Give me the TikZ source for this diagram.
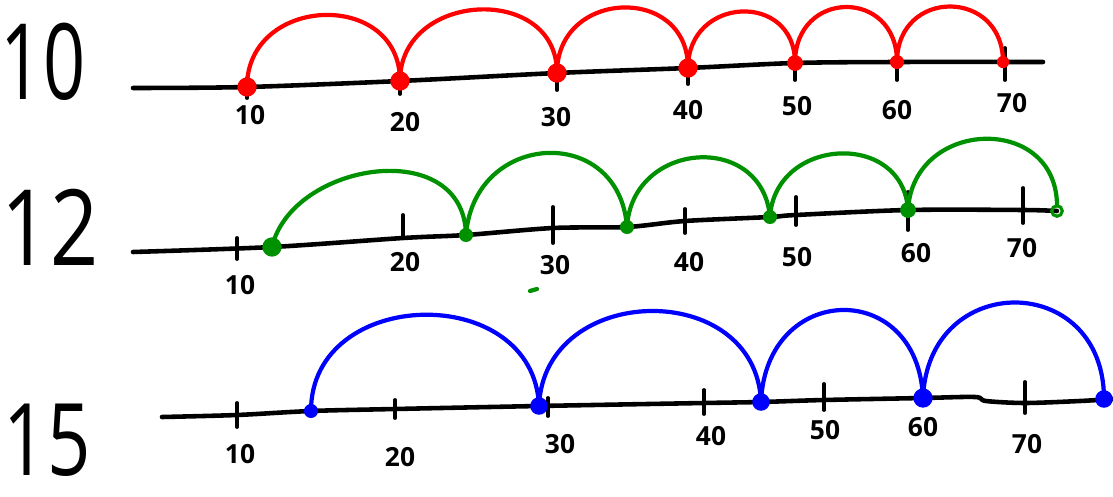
\documentclass[tikz,border=0pt]{standalone}
\usepackage{fontspec}
\setmainfont{Open Sans}

\begin{document}
\begin{tikzpicture}[x=0.02cm,y=-0.02cm,
    numline/.style={line width=2.6pt,line cap=round,line join=round},
    tick/.style={line width=2.2pt,line cap=round},
    ticklabel/.style={font=\bfseries\fontsize{15}{17}\selectfont},
    rowlabel/.style={font=\fontsize{60}{64}\selectfont,inner sep=0pt},
    jump/.style={line width=2.4pt,line cap=round,line join=round},
    dot/.style={circle,fill,inner sep=0pt,minimum size=11pt}]
  \useasboundingbox (0,0) rectangle (1113,497);
  \definecolor{jumpgreen}{RGB}{0,145,0}
  % Row labels
  \node[rowlabel] (lab10) at (43,62) {\scalebox{0.7}[1]{10}};
  \node[rowlabel] (lab12) at (50,227) {\scalebox{0.8}[1]{12}};
  \node[rowlabel] (lab15) at (47,440) {\scalebox{0.72}[0.95]{15}};

  % ---- Row 1: jumps of 10 ----
  \draw[numline] plot[smooth,tension=0.5] coordinates {
    (133,88) (247,87) (400,81) (557,73) (688,68) (795,63) (897,62) (1043,62)};
  \draw[tick] (247,78) -- (247,98);
  \draw[tick] (400,72) -- (400,94);
  \draw[tick] (557,62) -- (557,90);
  \draw[tick] (688,58) -- (688,84);
  \draw[tick] (795,55) -- (795,80);
  \draw[tick] (897,50) -- (897,80);
  \draw[tick] (1005,48) -- (1005,80);
  \node[ticklabel] (t1a) at (250,115) {10};
  \node[ticklabel] (t1b) at (405,122) {20};
  \node[ticklabel] (t1c) at (556,117) {30};
  \node[ticklabel] (t1d) at (688,110) {40};
  \node[ticklabel] (t1e) at (797,106) {50};
  \node[ticklabel] (t1f) at (897,110) {60};
  \node[ticklabel] (t1g) at (1012,103) {70};
  % red dots and jumps
  \node[dot,red] (r1) at (247,87) {};
  \node[dot,red] (r2) at (400,81) {};
  \node[dot,red] (r3) at (557,73) {};
  \node[dot,red] (r4) at (688,68) {};
  \node[dot,red,minimum size=9pt] (r5) at (795,63) {};
  \node[dot,red,minimum size=8pt] (r6) at (897,62) {};
  \node[dot,red,minimum size=7pt] (r7) at (1003,62) {};
  \draw[jump,red] (r1.center) .. controls +(0,-92) and +(0,-92) .. (r2.center);
  \draw[jump,red] (r2.center) .. controls +(0,-90) and +(0,-90) .. (r3.center);
  \draw[jump,red] (r3.center) .. controls +(0,-84) and +(0,-84) .. (r4.center);
  \draw[jump,red] (r4.center) .. controls +(0,-72) and +(0,-72) .. (r5.center);
  \draw[jump,red] (r5.center) .. controls +(0,-74) and +(0,-74) .. (r6.center);
  \draw[jump,red] (r6.center) .. controls +(0,-74) and +(0,-74) .. (r7.center);

  % ---- Row 2: jumps of 12 ----
  \draw[numline] plot[smooth,tension=0.5] coordinates {
    (133,252) (272,247) (403,238) (466,235) (553,228) (627,227) (685,221) (770,217) (796,215) (908,210) (1023,210) (1057,211)};
  \draw[tick] (237,238) -- (237,259);
  \draw[tick] (403,215) -- (403,238);
  \draw[tick] (553,207) -- (553,243);
  \draw[tick] (685,209) -- (685,233);
  \draw[tick] (796,197) -- (796,225);
  \draw[tick] (908,192) -- (908,230);
  \draw[tick] (1023,188) -- (1023,223);
  \node[ticklabel] (t2a) at (240,285) {10};
  \node[ticklabel] (t2b) at (405,262) {20};
  \node[ticklabel] (t2c) at (555,265) {30};
  \node[ticklabel] (t2d) at (689,262) {40};
  \node[ticklabel] (t2e) at (797,257) {50};
  \node[ticklabel] (t2f) at (916,253) {60};
  \node[ticklabel] (t2g) at (1022,248) {70};
  % green dots and jumps
  \node[dot,jumpgreen] (g1) at (272,247) {};
  \node[dot,jumpgreen,minimum size=8pt] (g2) at (466,235) {};
  \node[dot,jumpgreen,minimum size=8pt] (g3) at (627,227) {};
  \node[dot,jumpgreen,minimum size=8pt] (g4) at (770,217) {};
  \node[dot,jumpgreen,minimum size=9pt] (g5) at (908,210) {};
  \node[circle,draw=jumpgreen,line width=1.8pt,inner sep=0pt,minimum size=6pt] (g6) at (1057,211) {};
  \draw[jump,jumpgreen] (g1.center) .. controls +(20,-85) and +(-2,-100) .. (g2.center);
  \draw[jump,jumpgreen] (g2.center) .. controls +(8,-104) and +(-8,-104) .. (g3.center);
  \draw[jump,jumpgreen] (g3.center) .. controls +(5,-86) and +(-8,-86) .. (g4.center);
  \draw[jump,jumpgreen] (g4.center) .. controls +(5,-80) and +(-5,-80) .. (g5.center);
  \draw[jump,jumpgreen] (g5.center) .. controls +(5,-91) and +(-2,-91) .. (g6.north);
  \draw[jump,jumpgreen] (530,291) -- (537,289);

  % ---- Row 3: jumps of 15 ----
  \draw[numline] plot[smooth,tension=0.5] coordinates {
    (162,417) (237,415) (311,411) (395,409) (539,406) (704,403) (761,402) (824,400) (923,398) (975,397) (986,401) (1025,403) (1080,401) (1113,399)};
  \draw[tick] (237,403) -- (237,427);
  \draw[tick] (395,400) -- (395,418);
  \draw[tick] (548,398) -- (548,416);
  \draw[tick] (704,390) -- (704,414);
  \draw[tick] (824,384) -- (824,410);
  \draw[tick] (1025,382) -- (1025,413);
  \node[ticklabel] (t3a) at (240,454) {10};
  \node[ticklabel] (t3b) at (400,457) {20};
  \node[ticklabel] (t3c) at (560,444) {30};
  \node[ticklabel] (t3d) at (711,436) {40};
  \node[ticklabel] (t3e) at (825,430) {50};
  \node[ticklabel] (t3f) at (923,427) {60};
  \node[ticklabel] (t3g) at (1027,444) {70};
  % blue dots and jumps
  \node[dot,blue,minimum size=8pt] (b1) at (311,411) {};
  \node[dot,blue,minimum size=10pt] (b2) at (539,406) {};
  \node[dot,blue,minimum size=10pt] (b3) at (761,402) {};
  \node[dot,blue,minimum size=11pt] (b4) at (923,398) {};
  \node[dot,blue,minimum size=10pt] (b5) at (1104,399) {};
  \draw[jump,blue] (b1.center) .. controls +(0,-125) and +(-5,-125) .. (b2.center);
  \draw[jump,blue] (b2.center) .. controls +(5,-124) and +(-5,-124) .. (b3.center);
  \draw[jump,blue] (b3.center) .. controls +(5,-120) and +(-5,-120) .. (b4.center);
  \draw[jump,blue] (b4.center) .. controls +(5,-128) and +(0,-128) .. (b5.center);
\end{tikzpicture}
\end{document}
